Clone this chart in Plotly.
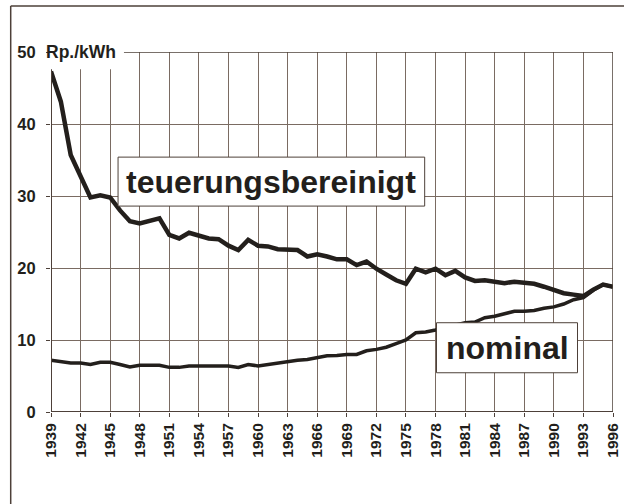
import plotly.graph_objects as go

years = list(range(1939, 1997))

teuerungsbereinigt = [
    47.3, 43.1, 35.7, 32.6, 29.8, 30.1, 29.8, 28.0, 26.5, 26.2,
    26.5, 26.9, 24.6, 24.1, 24.9, 24.5, 24.1, 24.0, 23.1, 22.5,
    23.9, 23.1, 23.0, 22.6, 22.5, 22.5, 21.6, 21.9, 21.6, 21.2,
    21.2, 20.4, 20.9, 19.9, 19.1, 18.3, 17.8, 19.9, 19.4, 19.9,
    19.0, 19.6, 18.7, 18.2, 18.3, 18.1, 17.9, 18.1, 17.9, 17.8,
    17.4, 16.9, 16.5, 16.3, 16.1, 17.0, 17.7, 17.4,
]

nominal = [
    7.2, 7.0, 6.8, 6.8, 6.6, 6.9, 6.9, 6.6, 6.25, 6.5,
    6.5, 6.5, 6.2, 6.2, 6.4, 6.4, 6.4, 6.4, 6.4, 6.2,
    6.6, 6.4, 6.6, 6.9, 7.1, 7.2, 7.3, 7.6, 7.8, 7.85,
    8.0, 8.0, 8.5, 8.7, 9.0, 9.5, 10.0, 11.0, 11.1, 11.4,
    11.7, 12.0, 12.4, 12.5, 13.1, 13.3, 13.6, 14.0, 14.0, 14.1,
    14.4, 14.6, 15.0, 15.6, 15.9, 16.9, 17.7, 17.4,
]

x_tick_years = list(range(1939, 1997, 3))
y_ticks = [0, 10, 20, 30, 40, 50]

unit_label = "Rp./kWh"
label_real = "teuerungsbereinigt"
label_nominal = "nominal"

FONT = "Liberation Sans, Arial, sans-serif"
INK = "#231f1c"
GRID = "#7a6b62"
FRAME = "#4d4039"

fig = go.Figure()
fig.add_trace(go.Scatter(x=years, y=teuerungsbereinigt, mode="lines",
                         line=dict(color=INK, width=4.5), cliponaxis=False,
                         hoverinfo="skip", showlegend=False))
fig.add_trace(go.Scatter(x=years, y=nominal, mode="lines",
                         line=dict(color=INK, width=3.5), cliponaxis=False,
                         hoverinfo="skip", showlegend=False))

fig.update_layout(
    width=624, height=504,
    margin=dict(l=51, r=11, t=52, b=92, autoexpand=False),
    paper_bgcolor="white", plot_bgcolor="white",
    showlegend=False,
    font=dict(family=FONT, color=INK),
    xaxis=dict(range=[1939, 1996], tickmode="array", tickvals=x_tick_years,
               ticktext=[str(y) for y in x_tick_years], tickangle=-90,
               tickfont=dict(size=15.5, weight="bold", color=INK),
               showgrid=True, gridcolor=GRID, gridwidth=1,
               showline=False, automargin=False,
               ticks="outside", ticklen=4, tickcolor=FRAME, tickwidth=1,
               zeroline=False, fixedrange=True),
    yaxis=dict(range=[0, 50], tickmode="array", tickvals=y_ticks,
               tickfont=dict(size=16.5, weight="bold", color=INK),
               showgrid=True, gridcolor=GRID, gridwidth=1,
               showline=False, automargin=False, ticklabelstandoff=7,
               ticks="outside", ticklen=4, tickcolor=FRAME, tickwidth=1,
               zeroline=False, fixedrange=True),
)

shapes = []
# white patch behind unit label (covers grid near the top-left)
shapes.append(dict(type="rect", xref="x", yref="y", x0=1938.3, x1=1946.4,
                   y0=47.6, y1=51.5, fillcolor="white", line=dict(width=0),
                   layer="above"))
# plot frame
shapes.append(dict(type="line", xref="x", yref="y", x0=1939, x1=1996, y0=0, y1=0,
                   line=dict(color=FRAME, width=2), layer="above"))
shapes.append(dict(type="line", xref="x", yref="y", x0=1939, x1=1939, y0=0, y1=47.6,
                   line=dict(color=FRAME, width=2), layer="above"))
shapes.append(dict(type="line", xref="x", yref="y", x0=1946.4, x1=1996, y0=50, y1=50,
                   line=dict(color=FRAME, width=1.5), layer="above"))
shapes.append(dict(type="line", xref="x", yref="y", x0=1996, x1=1996, y0=0, y1=50,
                   line=dict(color=FRAME, width=1.5), layer="above"))
# label boxes
shapes.append(dict(type="rect", xref="x", yref="y", x0=1945.8, x1=1976.9,
                   y0=28.6, y1=35.4, fillcolor="white",
                   line=dict(color=FRAME, width=1), layer="above"))
shapes.append(dict(type="rect", xref="x", yref="y", x0=1978.1, x1=1992.4,
                   y0=5.45, y1=12.4, fillcolor="white",
                   line=dict(color=FRAME, width=1), layer="above"))
# outer frame (left and top edges)
shapes.append(dict(type="line", xref="paper", yref="paper",
                   x0=-0.0717, x1=-0.0717, y0=-0.26, y1=1.128,
                   line=dict(color=FRAME, width=1.5)))
shapes.append(dict(type="line", xref="paper", yref="paper",
                   x0=-0.0717, x1=1.05, y0=1.128, y1=1.128,
                   line=dict(color=FRAME, width=1.5)))
fig.update_layout(shapes=shapes)

fig.add_annotation(x=-0.013, y=1.0, xref="paper", yref="paper", text=unit_label,
                   showarrow=False, xanchor="left", yanchor="middle",
                   font=dict(size=17.5, weight="bold", color=INK))
fig.add_annotation(x=1961.35, y=32.0, xref="x", yref="y", text=label_real,
                   showarrow=False, xanchor="center", yanchor="middle",
                   font=dict(size=32, weight="bold", color=INK))
fig.add_annotation(x=1985.25, y=8.9, xref="x", yref="y", text=label_nominal,
                   showarrow=False, xanchor="center", yanchor="middle",
                   font=dict(size=32, weight="bold", color=INK))

fig.write_html("out.html", config={"displayModeBar": False},
               post_script="document.body.style.margin='0';")
